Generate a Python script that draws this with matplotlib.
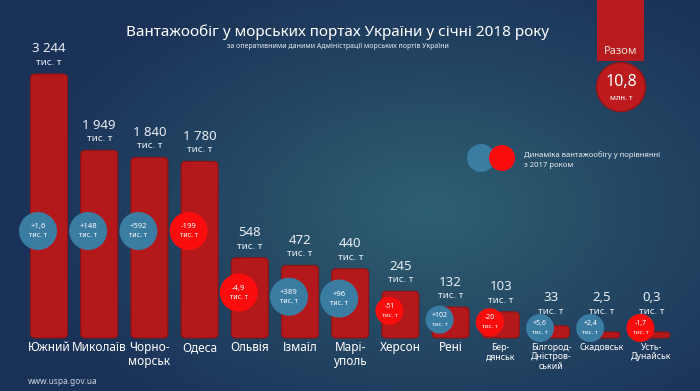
import matplotlib
matplotlib.use("Agg")
import matplotlib.pyplot as plt
import numpy as np
from matplotlib.patches import Circle, Rectangle, FancyBboxPatch

# port cargo turnover, January 2018 (thousand t)
ports = ["Южний", "Миколаїв", "Чорно-\nморськ", "Одеса", "Ольвія", "Ізмаїл", "Марі-\nуполь",
         "Херсон", "Рені", "Бер-\nдянськ", "Білгород-\nДністров-\nський", "Скадовськ", "Усть-\nДунайськ"]
volumes = [3244, 1949, 1840, 1780, 548, 472, 440, 245, 132, 103, 33, 2.5, 0.3]
volume_labels = ["3 244", "1 949", "1 840", "1 780", "548", "472", "440", "245", "132", "103", "33", "2,5", "0,3"]
# change vs January 2017 (thousand t)
changes = [1.6, 148, 592, -199, -4.9, 389, 96, -51, 102, -20, 5.6, 2.4, -1.7]
change_labels = ["+1,6", "+148", "+592", "-199", "-4,9", "+389", "+96", "-51", "+102", "-20", "+5,6", "+2,4", "-1,7"]
total_label = "10,8"

TITLE = "Вантажообіг у морських портах України у січні 2018 року"
SUBTITLE = "за оперативними даними Адміністрації морських портів України"
LEGEND_TEXT = "Динаміка вантажообігу у порівнянні\nз 2017 роком"

BAR_RED = "#b3191b"
BAR_RIM = "#8a1315"
UP_BLUE = "#3b7ca3"
DOWN_RED = "#fb0d0d"
TEXT = "#e8edf2"

POWER = 0.67


def fwd(v):
    v = np.asarray(v, dtype=float)
    return np.sign(v) * np.abs(v) ** POWER


def inv(v):
    v = np.asarray(v, dtype=float)
    return np.sign(v) * np.abs(v) ** (1.0 / POWER)


plt.rcParams["font.family"] = ["Noto Sans", "DejaVu Sans"]

W, H = 700, 391
fig = plt.figure(figsize=(W / 100, H / 100), dpi=100)

# background gradient
bg = fig.add_axes([0, 0, 1, 1])
bg.axis("off")
yy, xx = np.mgrid[0:H, 0:W]
r = np.sqrt(((xx - 430) / 430.0) ** 2 + ((yy - 210) / 270.0) ** 2)
t = np.clip(1 - r, 0, 1) ** 1.1
dark = np.array([26, 49, 88]) / 255.0
light = np.array([47, 96, 113]) / 255.0
img = dark + (light - dark) * t[..., None]
bg.imshow(img, extent=[0, W, H, 0], aspect="auto", interpolation="bilinear")
bg.set_xlim(0, W)
bg.set_ylim(H, 0)

# value axes: power scale, 50.2 px per slot, baseline 338 px from top
slot = 50.2
base = 338
ax_h = 290
ax = fig.add_axes([(49 - slot / 2) / W, (H - base) / H, 13 * slot / W, ax_h / H])
ax.patch.set_alpha(0)
ax.set_yscale("function", functions=(fwd, inv))
ax.set_xlim(-0.5, 12.5)
ax.set_ylim(0, float(inv(fwd(max(volumes)) * ax_h / 264.0)))
ax.axis("off")

# overlay in pixel coordinates (y down)
ov = fig.add_axes([0, 0, 1, 1])
ov.patch.set_alpha(0)
ov.axis("off")
ov.set_xlim(0, W)
ov.set_ylim(H, 0)

bar_w = 37
for i, v in enumerate(volumes):
    dx, dy = ax.transData.transform((i, v))
    top = min(H - dy, base - 6)
    h = base - top
    ov.add_patch(FancyBboxPatch((dx - bar_w / 2, top), bar_w, h,
                                boxstyle="round,pad=0,rounding_size=%.1f" % min(4.5, h / 2),
                                facecolor=BAR_RED, edgecolor=BAR_RIM, linewidth=0.8, zorder=2))

    # change bubble
    cx = dx - 11
    if top < 200:
        cy = 231
    else:
        cy = min(top + 0.45 * (335 - top), 328)
    d = 38 if i < 7 else 28
    col = UP_BLUE if changes[i] >= 0 else DOWN_RED
    ov.add_patch(Circle((cx, cy), d / 2, facecolor=col, edgecolor="none", zorder=5))
    fs = 5.6 if i < 7 else 5.0
    ov.text(cx, cy - 4.5, change_labels[i], ha="center", va="center", fontsize=fs, color="white", zorder=6)
    ov.text(cx, cy + 4.5, "тис. т", ha="center", va="center", fontsize=fs - 0.6, color="white", zorder=6)

    # value label above bar, kept clear of the bubble
    unit_y = min(top - 11.5, cy - d / 2 - 3)
    ov.text(dx, unit_y, "тис. т", ha="center", va="center", fontsize=7, color=TEXT)
    ov.text(dx, unit_y - 13.5, volume_labels[i], ha="center", va="center", fontsize=9.5, color=TEXT)

    # port name
    small = i >= 9
    ov.text(dx, base + (5 if small else 3), ports[i], ha="center", va="top",
            fontsize=6.3 if small else 8.5, fontweight="bold", color="white",
            linespacing=1.05 if small else 1.15, zorder=7)

# titles
ov.text(338, 32, TITLE, ha="center", va="center", fontsize=11, color="white")
ov.text(338, 46, SUBTITLE, ha="center", va="center", fontsize=5, color=TEXT)

# total box
ov.add_patch(Rectangle((597, -2), 47, 63, facecolor="#b81b1d", edgecolor="none"))
ov.text(620.5, 52, "Разом", ha="center", va="center", fontsize=8, color="#f3dcdc")
ov.add_patch(Circle((621, 87), 24.5, facecolor="#bd1a1d", edgecolor="#951416", linewidth=1))
ov.text(621, 82, total_label, ha="center", va="center", fontsize=11.5, fontweight="bold", color="white")
ov.text(621, 99, "млн. т", ha="center", va="center", fontsize=5.5, fontweight="bold", color="white")

# legend
ov.add_patch(Circle((481, 158), 14, facecolor=UP_BLUE, edgecolor="none"))
ov.add_patch(Circle((502, 158), 13, facecolor=DOWN_RED, edgecolor="none"))
ov.text(524, 160, LEGEND_TEXT, ha="left", va="center", fontsize=5.5, color=TEXT, linespacing=1.5)

ov.text(28, 382, "www.uspa.gov.ua", ha="left", va="center", fontsize=6, color="#c9d3dd")

fig.savefig("out.png", dpi=100)
